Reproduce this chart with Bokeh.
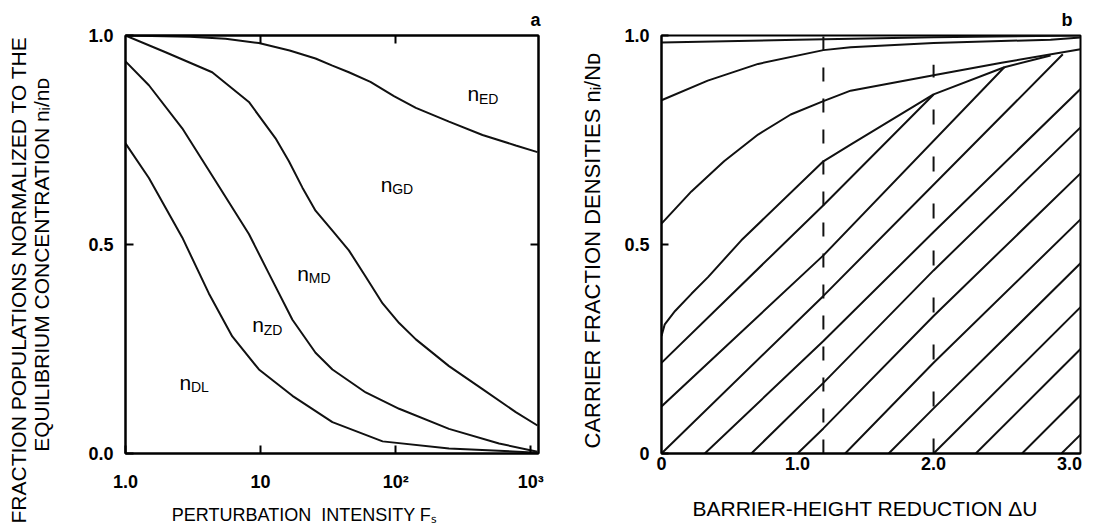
import math
from bokeh.plotting import figure
from bokeh.layouts import row
from bokeh.models import FixedTicker, LinearAxis, LogAxis, Label, Range1d, Title
from bokeh.embed import file_html
from bokeh.resources import INLINE

FONT = "Liberation Sans"
INK = "#111111"
NB = "\u00a0"

# ---------------- panel a : data ----------------
a_x_ticks = [1, 10, 100, 1000]
a_x_labels = ["1.0", "10", "10²", "10³"]
a_y_ticks = [0.0, 0.5, 1.0]
a_y_labels = ["0.0", "0.5", "1.0"]

ed_x = [1, 3, 5.5, 9.7, 16.4, 25.5, 34, 45, 65, 97, 141, 248, 439, 774, 1120]
ed_y = [1.0, 0.997, 0.992, 0.982, 0.964, 0.945, 0.928, 0.912, 0.889, 0.855, 0.827, 0.794, 0.762, 0.737, 0.721]

gd_x = [1, 1.98, 4.38, 8.19, 12.9, 16.2, 20.4, 25.5, 34, 45, 60, 80, 106, 141, 248, 439, 774, 1120]
gd_y = [1.0, 0.960, 0.912, 0.841, 0.754, 0.699, 0.636, 0.581, 0.533, 0.486, 0.423, 0.359, 0.312, 0.273, 0.209, 0.154, 0.099, 0.067]

md_x = [1, 1.49, 2.63, 4.64, 8.19, 11.5, 17.2, 25.5, 34, 60, 106, 248, 582, 1120]
md_y = [0.938, 0.881, 0.778, 0.652, 0.525, 0.431, 0.320, 0.241, 0.201, 0.146, 0.107, 0.059, 0.024, 0.004]

zd_x = [1, 1.49, 2.63, 4.14, 6.17, 9.72, 17.2, 34, 80, 248, 1120]
zd_y = [0.742, 0.659, 0.517, 0.383, 0.280, 0.201, 0.138, 0.075, 0.029, 0.012, 0.002]

a_label_sub = ["ED", "GD", "MD", "ZD", "DL"]
a_label_x = [340, 77.4, 18.7, 8.68, 2.51]
a_label_y = [0.861, 0.644, 0.431, 0.308, 0.170]

# ---------------- panel b : data ----------------
b_x_ticks = [0, 1, 2, 3]
b_x_labels = ["0", "1.0", "2.0", "3.0"]
b_y_ticks = [0.0, 0.5, 1.0]
b_y_labels = ["0", "0.5", "1.0"]

cA_x = [0, 1.0, 2.0, 3.08]
cA_y = [0.983, 0.990, 0.996, 1.0]
cB_x = [0, 0.34, 0.71, 1.19, 1.39, 2.0, 2.86, 3.08]
cB_y = [0.845, 0.892, 0.932, 0.965, 0.972, 0.982, 0.990, 0.995]
cC_x = [0, 0.22, 0.46, 0.71, 0.95, 1.19, 1.39, 2.0, 2.5, 3.08]
cC_y = [0.550, 0.627, 0.699, 0.763, 0.811, 0.843, 0.868, 0.905, 0.935, 0.967]
cD_x = [0, 0.024, 0.10, 0.22, 0.342, 0.587, 1.19, 1.39, 2.0, 2.52, 2.86]
cD_y = [0.281, 0.309, 0.341, 0.382, 0.422, 0.510, 0.699, 0.739, 0.859, 0.924, 0.952]

hE_x = [0, 1.19, 2.0]
hE_y = [0.217, 0.594, 0.859]
hF_x = [0, 1.19, 2.52]
hF_y = [0.1125, 0.474, 0.924]
hG_x = [0, 1.19, 2.95]
hG_y = [0.0, 0.377, 0.955]
h1_x = [0.318, 1.19, 2.0, 3.08]
h1_y = [0.0, 0.269, 0.530, 0.872]
h2_x = [0.66, 1.19, 2.0, 3.08]
h2_y = [0.0, 0.169, 0.438, 0.780]
h3_x = [1.0, 1.19, 2.0, 3.08]
h3_y = [0.0, 0.060, 0.329, 0.670]
h4_x = [1.35, 2.0, 3.08]
h4_y = [0.0, 0.217, 0.560]
h5_x = [1.67, 2.0, 3.08]
h5_y = [0.0, 0.108, 0.455]
h6_x = [2.0, 3.08]
h6_y = [0.0, 0.350]
h7_x = [2.31, 3.08]
h7_y = [0.0, 0.250]
h8_x = [2.65, 3.08]
h8_y = [0.0, 0.140]
h9_x = [2.94, 3.08]
h9_y = [0.0, 0.045]

dash_x = [1.19, 2.0]
dash_top = [1.0, 0.93]


def lab(p, x, y, text, size, xo=0, yo=0):
    p.add_layout(Label(x=x, y=y, x_units="data", y_units="data", text=text,
                       text_font=FONT, text_font_size=f"{size}px",
                       text_align="left", text_baseline="alphabetic",
                       x_offset=xo, y_offset=yo, text_color="black"))


def title(p, side, text, size, align="center", offset=0, standoff=0, bold=False):
    t = Title(text=text, align=align, offset=offset, standoff=standoff,
              text_font=FONT, text_font_size=f"{size}px",
              text_font_style="bold" if bold else "normal", text_color="black")
    p.add_layout(t, side)


def style_axis(ax, ticks, labels, standoff, tick_in=0):
    ax.ticker = FixedTicker(ticks=ticks)
    ax.major_label_overrides = dict(zip(ticks, labels))
    ax.major_label_text_font = FONT
    ax.major_label_text_font_style = "bold"
    ax.major_label_text_font_size = "18px"
    ax.major_label_text_color = "black"
    ax.major_label_standoff = standoff
    ax.major_tick_in = tick_in
    ax.major_tick_out = 0
    ax.major_tick_line_width = 2
    ax.major_tick_line_color = "black"
    ax.minor_tick_line_color = None
    ax.axis_line_color = "black"
    ax.axis_line_width = 2


def axis_title(ax, text, size, standoff):
    ax.axis_label = text
    ax.axis_label_text_font = FONT
    ax.axis_label_text_font_size = f"{size}px"
    ax.axis_label_text_font_style = "normal"
    ax.axis_label_text_color = "black"
    ax.axis_label_standoff = standoff


def tick_only_axis(cls, ticks, tick_in):
    ax = cls(ticker=FixedTicker(ticks=ticks))
    ax.major_label_text_font_size = "0px"
    ax.major_label_text_color = None
    ax.major_label_standoff = 0
    ax.major_tick_in = tick_in
    ax.major_tick_out = 0
    ax.major_tick_line_width = 2
    ax.minor_tick_line_color = None
    ax.axis_line_color = "black"
    ax.axis_line_width = 2
    return ax


# ---------------- panel a ----------------
p1 = figure(width=560, height=528, x_axis_type="log", title=None,
            x_range=Range1d(1.0, 1140), y_range=Range1d(0.0, 1.0),
            output_backend="svg", toolbar_location=None,
            min_border_left=125, min_border_right=22,
            min_border_top=35, min_border_bottom=75)
p1.grid.visible = False
p1.outline_line_color = "black"
p1.outline_line_width = 2
style_axis(p1.xaxis[0], a_x_ticks, a_x_labels, standoff=18, tick_in=8)
style_axis(p1.yaxis[0], a_y_ticks, a_y_labels, standoff=12, tick_in=8)
axis_title(p1.yaxis[0], "EQUILIBRIUM CONCENTRATION n\u1d62/n\u1d05" + NB * 7, 21, 32)
axis_title(p1.xaxis[0], "PERTURBATION" + NB + " INTENSITY F\u209b" + NB * 11, 18, 10)
p1.add_layout(tick_only_axis(LogAxis, [10, 100], 8), "above")
p1.add_layout(tick_only_axis(LinearAxis, [0.5], 8), "right")

for xs, ys in [(ed_x, ed_y), (gd_x, gd_y), (md_x, md_y), (zd_x, zd_y)]:
    p1.line(xs, ys, line_color=INK, line_width=2)

for sub, lx, ly in zip(a_label_sub, a_label_x, a_label_y):
    lab(p1, lx, ly, "n", 21)
    lab(p1, lx, ly, sub, 14, xo=11.5, yo=-5)

title(p1, "above", "a", 18, align="right", offset=-2, standoff=12, bold=True)
title(p1, "left", "FRACTION POPULATIONS NORMALIZED TO THE", 21,
      align="left", offset=-70, standoff=-4)

# ---------------- panel b ----------------
p2 = figure(width=540, height=528, title=None,
            x_range=Range1d(0.0, 3.08), y_range=Range1d(0.0, 1.0),
            output_backend="svg", toolbar_location=None,
            min_border_left=100, min_border_right=20,
            min_border_top=35, min_border_bottom=75)
p2.grid.visible = False
p2.outline_line_color = "black"
p2.outline_line_width = 2
style_axis(p2.xaxis[0], b_x_ticks, b_x_labels, standoff=3, tick_in=0)
style_axis(p2.yaxis[0], b_y_ticks, b_y_labels, standoff=12, tick_in=7)
axis_title(p2.xaxis[0], "BARRIER-HEIGHT REDUCTION \u0394U" + NB * 2, 21, 24)

for xs, ys in [(cA_x, cA_y), (cB_x, cB_y), (cC_x, cC_y), (cD_x, cD_y),
               (hE_x, hE_y), (hF_x, hF_y), (hG_x, hG_y)]:
    p2.line(xs, ys, line_color=INK, line_width=2)

p2.multi_line(xs=[h1_x, h2_x, h3_x, h4_x, h5_x, h6_x, h7_x, h8_x, h9_x],
              ys=[h1_y, h2_y, h3_y, h4_y, h5_y, h6_y, h7_y, h8_y, h9_y],
              line_color=INK, line_width=2)

p2.line([dash_x[0], dash_x[0]], [0, dash_top[0]], line_color=INK, line_width=2,
        line_dash="14 17")
p2.line([dash_x[1], dash_x[1]], [0, dash_top[1]], line_color=INK, line_width=2,
        line_dash="15 32")

title(p2, "above", "b", 18, align="right", offset=8, standoff=12, bold=True)
title(p2, "left", "CARRIER FRACTION DENSITIES n\u1d62/N\u1d05", 22,
      align="left", offset=5, standoff=34)

layout = row(p1, p2)
open("out.html", "w").write(file_html(layout, INLINE))
